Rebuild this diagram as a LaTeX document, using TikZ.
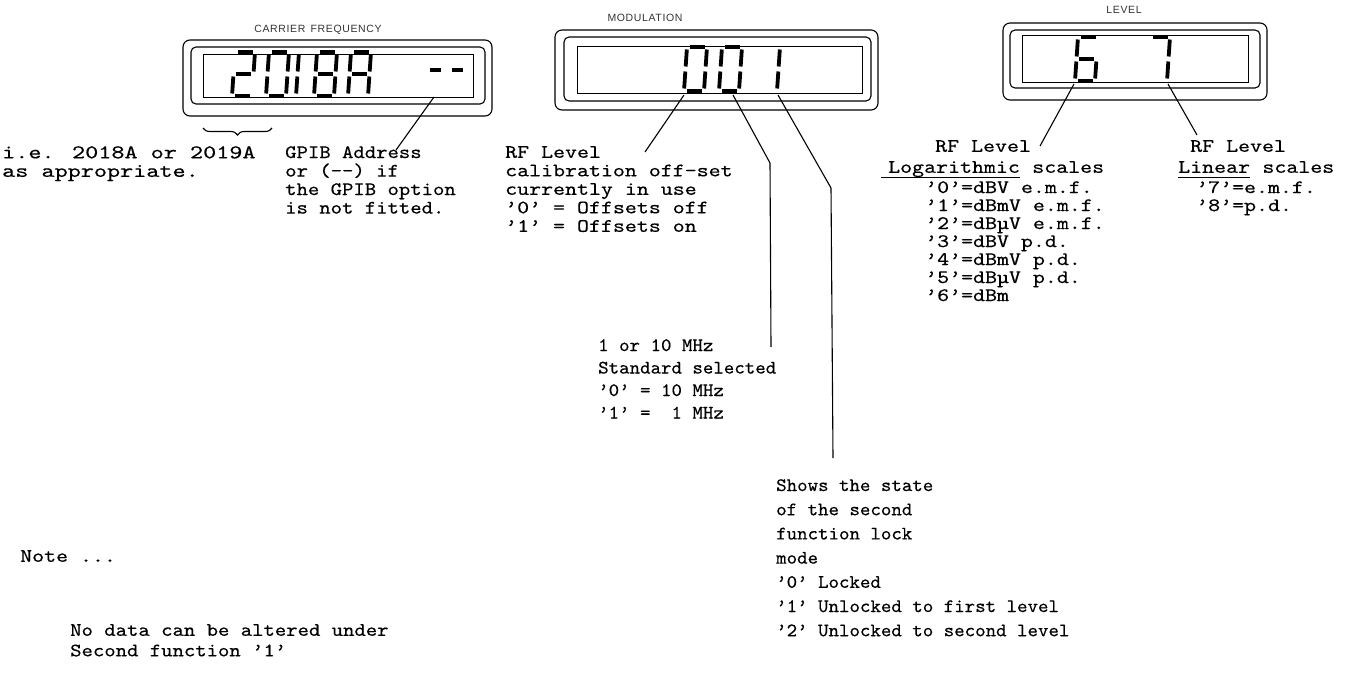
\documentclass[tikz,border=0pt]{standalone}
\usepackage{fontspec}
\usepackage{tikz}
\usetikzlibrary{positioning, decorations.pathreplacing}
\newfontfamily\typewr{lmmono10-regular.otf}[FakeStretch=1.2, FakeBold=0.35]
\newfontfamily\typewrw{lmmono10-regular.otf}[FakeStretch=1.28, FakeBold=0.35]
\newfontfamily\typewrm{lmmono10-regular.otf}[FakeStretch=1.14, FakeBold=0.35]
\newfontfamily\typewrn{lmmono10-regular.otf}[FakeStretch=1.05, FakeBold=0.35]
\newfontfamily\panelsf{Liberation Sans}[LetterSpace=6]

\tikzstyle{frameline} = [line width=1.1pt, rounded corners=7pt]
\tikzstyle{windowline} = [line width=1pt]
\tikzstyle{segline} = [line width=3.8pt, shorten >=2.5pt, shorten <=2.5pt]
\tikzstyle{dashseg} = [line width=4pt]
\tikzstyle{pointer} = [line width=1.1pt]
\tikzstyle{underl} = [line width=1pt]
\tikzstyle{typed} = [font=\typewr\fontsize{19}{18.5}\selectfont, align=left, inner sep=0pt, anchor=north west]
\tikzstyle{panellabel} = [font=\panelsf\fontsize{10.5}{11}\selectfont, text=black!80, inner sep=0pt]

% seven segment digit: top left corner, list of segments
\newcommand{\segdigit}[2]{%
  \begin{scope}[shift={#1}]
    \coordinate (tl) at (3,0);  \coordinate (tr) at (23,0);
    \coordinate (ml) at (1.5,22); \coordinate (mr) at (21.5,22);
    \coordinate (bl) at (0,44); \coordinate (br) at (20,44);
    \foreach \p/\q in {#2} \draw[segline] (\p) -- (\q);
  \end{scope}}

\begin{document}
\begin{tikzpicture}[x=1pt, y=-1pt]
  \useasboundingbox (0,0) rectangle (1346,673);

  % Displays
  \draw[frameline] (183,40) rectangle (492,116);
  \draw[frameline, rounded corners=5pt] (191,47) rectangle (485,104);
  \draw[windowline] (203,54) rectangle (473,97);

  \draw[frameline] (555,30) rectangle (878,110);
  \draw[frameline, rounded corners=5pt] (564,37) rectangle (871,101);
  \draw[windowline] (577,46) rectangle (862,93);

  \draw[frameline] (1003,23) rectangle (1267,100);
  \draw[frameline, rounded corners=5pt] (1010,30) rectangle (1260,88);
  \draw[windowline] (1022,35) rectangle (1248,82);

  % Panel labels
  \node[panellabel] (carrlabel) at (318,30) {CARRIER\enspace FREQUENCY};
  \node[panellabel] (modlabel) at (645,18) {MODULATION};
  \node[panellabel] (levlabel) at (1124,10) {LEVEL};

  % Digits
  \segdigit{(232,52)}{tl/tr, tr/mr, ml/mr, ml/bl, bl/br}
  \segdigit{(266,52)}{tl/tr, tr/mr, mr/br, bl/br, ml/bl, tl/ml}
  \segdigit{(296,52)}{tl/ml, ml/bl}
  \segdigit{(314,52)}{tl/tr, tr/mr, mr/br, bl/br, ml/bl, tl/ml, ml/mr}
  \segdigit{(348,52)}{tl/tr, tr/mr, mr/br, tl/ml, ml/bl, ml/mr}
  \draw[dashseg] (430,70) -- (441,70);
  \draw[dashseg] (452,70) -- (463,70);

  \segdigit{(684,47)}{tl/tr, tr/mr, mr/br, bl/br, ml/bl, tl/ml}
  \segdigit{(719,47)}{tl/tr, tr/mr, mr/br, bl/br, ml/bl, tl/ml}
  \segdigit{(757,47)}{tr/mr, mr/br}

  \segdigit{(1075,37)}{tl/tr, tl/ml, ml/bl, bl/br, mr/br, ml/mr}
  \segdigit{(1147,37)}{tl/tr, tr/mr, mr/br}

  % Brace
  \draw[pointer, decorate, decoration={brace, mirror, amplitude=7pt}] (203,128) -- (272,128);

  % Texts
  \node[typed, font=\typewrw\fontsize{19.5}{18.5}\selectfont] (ietext) at (2,146) {i.e. 2018A or 2019A\\as appropriate.};
  \node[typed, font=\typewrm\fontsize{19}{18.5}\selectfont] (gpibtext) at (285,146) {GPIB Address\\or (--) if\\the GPIB option\\is not fitted.};
  \node[typed] (rfcaltext) at (505,146) {RF Level\\calibration off-set\\currently in use\\’0’ = Offsets off\\’1’ = Offsets on};
  \node[typed, font=\typewrn\fontsize{19}{22.5}\selectfont] (stdtext) at (598,339) {1 or 10 MHz\\Standard selected\\’0’ = 10 MHz\\’1’ =\ \ 1 MHz};
  \node[typed, font=\typewrn\fontsize{19}{24.2}\selectfont] (locktext) at (776,479) {Shows the state\\of the second\\function lock\\mode\\’0’ Locked\\’1’ Unlocked to first level\\’2’ Unlocked to second level};

  \node[typed] (logrf) at (935,140) {RF Level};
  \node[typed] (logword) at (888,161) {Logarithmic};
  \node[typed, right=12pt of logword.north east, anchor=north west] (logscale) {scales};
  \node[typed, font=\typewr\fontsize{19}{18}\selectfont] (logitems) at (925,181) {’0’=dBV e.m.f.\\’1’=dBmV e.m.f.\\’2’=dBµV e.m.f.\\’3’=dBV p.d.\\’4’=dBmV p.d.\\’5’=dBµV p.d.\\’6’=dBm};
  \node[typed] (linrf) at (1190,140) {RF Level};
  \node[typed] (linword) at (1178,161) {Linear};
  \node[typed, right=12pt of linword.north east, anchor=north west] (linscale) {scales};
  \node[typed, font=\typewr\fontsize{19}{18}\selectfont] (linitems) at (1196,181) {’7’=e.m.f.\\’8’=p.d.};
  \draw[underl] ([xshift=-7pt, yshift=-5pt]logword.base west) -- ([yshift=-5pt]logword.base east);
  \draw[underl] ([yshift=-5pt]linword.base west) -- ([yshift=-5pt]linword.base east);

  \node[typed] (notehead) at (20,550) {Note ...};
  \node[typed, font=\typewrm\fontsize{19}{20.5}\selectfont] (notetext) at (70,624) {No data can be altered under\\Second function ’1’};

  % Pointers
  \coordinate (gpibtip) at (434,97);   \coordinate (gpibend) at (396,150);
  \coordinate (caltip) at (684,95);    \coordinate (calend) at (645,152);
  \coordinate (stdtip) at (733,95);    \coordinate (stdknee) at (770,163);
  \coordinate (stdend) at (771,347);
  \coordinate (locktip) at (778,95);   \coordinate (lockknee) at (831,188);
  \coordinate (lockend) at (833,458);
  \coordinate (logtip) at (1074,84);   \coordinate (logend) at (1040,146);
  \coordinate (lintip) at (1168,84);   \coordinate (linend) at (1197,135);

  \draw[pointer] (gpibtip) -- (gpibend);
  \draw[pointer] (caltip) -- (calend);
  \draw[pointer] (stdtip) -- (stdknee) -- (stdend);
  \draw[pointer] (locktip) -- (lockknee) -- (lockend);
  \draw[pointer] (logtip) -- (logend);
  \draw[pointer] (lintip) -- (linend);

\end{tikzpicture}
\end{document}
